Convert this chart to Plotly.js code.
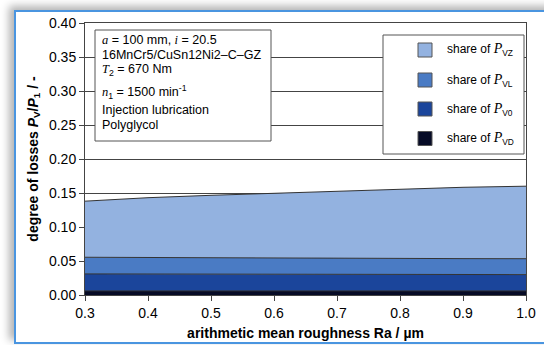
<!DOCTYPE html>
<html><head><meta charset="utf-8">
<script src="https://cdn.plot.ly/plotly-3.0.1.min.js"></script>
<style>
html,body{margin:0;padding:0;background:#fff;width:544px;height:345px;overflow:hidden;}
#frame{position:absolute;left:14px;top:10px;width:560px;height:330px;border:2px solid #4a95e0;background:#fff;box-shadow:-5px -4px 8px rgba(0,0,0,0.30);}
#chart{position:absolute;left:0;top:0;width:544px;height:345px;}
</style>
</head><body>
<div id="frame"></div>
<div id="chart"></div>
<script>
// Ra / µm
const roughness = [0.3, 0.4, 0.5, 0.6, 0.7, 0.8, 0.9, 1.0];
// shares of degree of losses (stacked, bottom to top)
const shareVD = [0.006, 0.006, 0.006, 0.006, 0.006, 0.006, 0.006, 0.006];
const shareV0 = [0.025, 0.025, 0.0245, 0.024, 0.024, 0.024, 0.024, 0.024];
const shareVL = [0.0245, 0.024, 0.024, 0.024, 0.0238, 0.0236, 0.0235, 0.0234];
const shareVZ = [0.0825, 0.0881, 0.0921, 0.0955, 0.0991, 0.1023, 0.1049, 0.1066];

const seriesNames = ['share of P<sub>VD</sub>', 'share of P<sub>V0</sub>', 'share of P<sub>VL</sub>', 'share of P<sub>VZ</sub>'];
const serifP = '<span style="font-family:\'Liberation Serif\';font-size:14px"><i>P</i></span>';
const legendLabels = ['share of ' + serifP + '<sub>VZ</sub>', 'share of ' + serifP + '<sub>VL</sub>', 'share of ' + serifP + '<sub>V0</sub>', 'share of ' + serifP + '<sub>VD</sub>'];
const seriesColors = ['#060b26', '#1b459b', '#4a7bc4', '#93b2e0'];
const legendColors = ['#93b2e0', '#4a7bc4', '#1b459b', '#060b26'];
const boxLines = [
  '<span style="font-family:\'Liberation Serif\'"><i>a</i></span> = 100 mm, <span style="font-family:\'Liberation Serif\'"><i>i</i></span> = 20.5',
  '16MnCr5/CuSn12Ni2–C–GZ',
  '<span style="font-family:\'Liberation Serif\'"><i>T</i></span><sub>2</sub> = 670 Nm',
  '<span style="font-family:\'Liberation Serif\'"><i>n</i></span><sub>1</sub> = 1500 min<sup>-1</sup>',
  'Injection lubrication',
  'Polyglycol'
];

const values = [shareVD, shareV0, shareVL, shareVZ];
const traces = values.map((v, k) => ({
  x: roughness, y: v, type: 'scatter', mode: 'lines',
  stackgroup: 'one', name: seriesNames[k],
  line: {color: '#333333', width: 1},
  fillcolor: seriesColors[k], showlegend: false, hoverinfo: 'skip'
}));

// pixel -> paper helpers for annotation positions
const L = 85, T = 23, W = 441, H = 272;
const px = p => (p - L) / W;
const py = p => (T + H - p) / H;

const shapes = [];
const annotations = [];
// info box
shapes.push({type: 'rect', xref: 'paper', yref: 'paper', x0: px(95), x1: px(271), y0: py(141), y1: py(30),
  line: {color: '#555555', width: 1}, fillcolor: '#ffffff', layer: 'above'});
const lineY = [40, 55, 70, 92, 110, 125];
boxLines.forEach((t, k) => annotations.push({xref: 'paper', yref: 'paper', x: px(100), y: py(lineY[k]),
  xanchor: 'left', yanchor: 'middle', showarrow: false, text: t,
  font: {family: 'Liberation Sans, Arial, sans-serif', size: 12.5, color: '#000'}}));
// legend box
shapes.push({type: 'rect', xref: 'paper', yref: 'paper', x0: px(383), x1: px(524), y0: py(154), y1: py(35),
  line: {color: '#555555', width: 1}, fillcolor: '#ffffff', layer: 'above'});
const legY = [50, 80, 109, 138.5];
legendLabels.forEach((t, k) => {
  shapes.push({type: 'rect', xref: 'paper', yref: 'paper', x0: px(418), x1: px(432), y0: py(legY[k] + 7), y1: py(legY[k] - 7),
    line: {color: '#555555', width: 1}, fillcolor: legendColors[k], layer: 'above'});
  annotations.push({xref: 'paper', yref: 'paper', x: px(445), y: py(legY[k]), xanchor: 'left', yanchor: 'middle',
    showarrow: false, text: t, font: {family: 'Liberation Sans, Arial, sans-serif', size: 12, color: '#000'}});
});

const axisFont = {family: 'Liberation Sans, Arial, sans-serif', size: 14, color: '#000'};
const layout = {
  width: 544, height: 345,
  margin: {l: L, r: 544 - L - W, t: T, b: 345 - T - H},
  paper_bgcolor: 'rgba(0,0,0,0)', plot_bgcolor: '#ffffff',
  showlegend: false,
  xaxis: {range: [0.3, 1.0], dtick: 0.1, tick0: 0.3, tickformat: '.1f', ticks: 'outside', ticklen: 5,
    tickcolor: '#444', showline: true, linecolor: '#444', linewidth: 1, mirror: true, showgrid: false,
    zeroline: false, tickfont: axisFont,
    title: {text: '<b>arithmetic mean roughness Ra / µm</b>', font: axisFont, standoff: 8}},
  yaxis: {range: [0, 0.40], dtick: 0.05, tickformat: '.2f', ticks: 'outside', ticklen: 5,
    tickcolor: '#444', showline: true, linecolor: '#444', linewidth: 1, mirror: true,
    showgrid: true, gridcolor: '#444', gridwidth: 1, zeroline: false, tickfont: axisFont,
    title: {text: '<b>degree of losses <i>P</i><sub>V</sub>/<i>P</i><sub>1</sub> / -</b>', font: axisFont, standoff: 7}},
  shapes: shapes, annotations: annotations
};
Plotly.newPlot('chart', traces, layout, {displayModeBar: false, staticPlot: true});
</script>
</body></html>
